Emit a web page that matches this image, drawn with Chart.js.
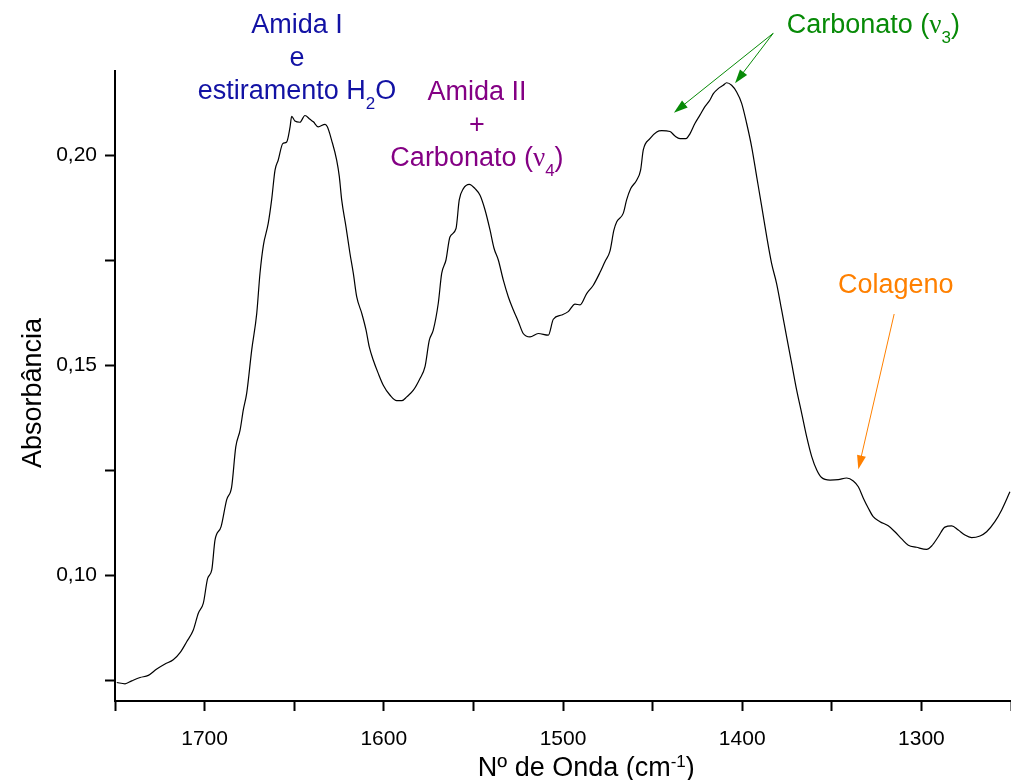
<!DOCTYPE html>
<html>
<head>
<meta charset="utf-8">
<script src="https://cdn.jsdelivr.net/npm/chart.js@4.4.1/dist/chart.umd.min.js"></script>
<style>
  html, body { margin: 0; padding: 0; background: #fff; }
  #wrap { width: 1011px; height: 780px; position: relative; }
</style>
</head>
<body>
<div id="wrap"><canvas id="spectrum" width="1011" height="780"></canvas></div>
<script>
// FTIR absorbance spectrum, wavenumber in cm^-1 (axis runs high -> low)
const wavenumber = [
  1749.0, 1744.4, 1740.7, 1736.0, 1731.4, 1726.7, 1722.1, 1717.5, 1713.7, 1710.0,
  1706.3, 1703.5, 1700.7, 1698.3, 1696.0, 1694.2, 1690.8, 1687.7, 1684.9, 1682.6,
  1680.2, 1678.4, 1676.5, 1673.7, 1670.9, 1669.1, 1667.2, 1664.5, 1662.6, 1660.7,
  1658.9, 1656.4, 1654.2, 1652.3, 1651.4, 1649.6, 1646.8, 1644.0, 1641.2, 1639.3,
  1636.6, 1632.8, 1631.5, 1629.1, 1626.3, 1624.8, 1623.5, 1621.1, 1618.9, 1617.0,
  1615.1, 1612.3, 1609.9, 1608.1, 1605.9, 1603.1, 1600.3, 1596.5, 1592.8, 1590.0,
  1587.2, 1583.5, 1579.8, 1577.0, 1574.6, 1572.4, 1569.6, 1567.7, 1565.3, 1563.1,
  1559.7, 1557.9, 1555.6, 1552.3, 1549.1, 1546.3, 1543.5, 1540.7, 1538.5, 1536.1,
  1533.3, 1530.5, 1527.7, 1524.9, 1522.2, 1518.4, 1513.8, 1508.2, 1505.4, 1500.7,
  1497.1, 1493.3, 1490.5, 1486.8, 1483.1, 1479.4, 1476.6, 1473.8, 1471.6, 1470.0,
  1466.4, 1464.5, 1462.2, 1458.9, 1456.7, 1455.2, 1451.5, 1447.7, 1444.9, 1440.3,
  1437.5, 1434.7, 1431.4, 1429.1, 1426.4, 1423.6, 1420.8, 1418.0, 1416.1, 1413.4,
  1410.6, 1408.7, 1405.9, 1403.1, 1400.3, 1397.5, 1394.7, 1391.9, 1389.1, 1386.3,
  1383.6, 1380.8, 1378.0, 1375.2, 1372.4, 1369.6, 1366.8, 1364.0, 1361.2, 1358.4,
  1355.7, 1351.0, 1346.4, 1341.7, 1338.0, 1335.2, 1332.4, 1329.6, 1326.9, 1323.1,
  1318.5, 1314.8, 1311.0, 1307.3, 1302.7, 1297.1, 1294.3, 1290.6, 1286.9, 1283.1,
  1279.4, 1275.7, 1272.0, 1267.3, 1263.6, 1259.0, 1255.2, 1250.6
];

const absorbance = [
  0.0744, 0.0741, 0.0748, 0.0756, 0.0761, 0.0776, 0.0788, 0.0798, 0.0815, 0.0841,
  0.0869, 0.0909, 0.0933, 0.0992, 0.1012, 0.1083, 0.1115, 0.1179, 0.1210, 0.1305,
  0.1345, 0.1393, 0.1433, 0.1536, 0.1623, 0.1718, 0.1785, 0.1837, 0.1893, 0.1964,
  0.1988, 0.2027, 0.2031, 0.2067, 0.2092, 0.2081, 0.2078, 0.2094, 0.2085, 0.2079,
  0.2067, 0.2073, 0.2067, 0.2035, 0.1988, 0.1948, 0.1893, 0.1829, 0.1766, 0.1718,
  0.1662, 0.1623, 0.1583, 0.1543, 0.1512, 0.1480, 0.1452, 0.1428, 0.1415, 0.1415,
  0.1424, 0.1440, 0.1468, 0.1496, 0.1559, 0.1583, 0.1647, 0.1718, 0.1750, 0.1805,
  0.1825, 0.1893, 0.1920, 0.1930, 0.1920, 0.1904, 0.1869, 0.1821, 0.1778, 0.1750,
  0.1702, 0.1662, 0.1631, 0.1603, 0.1575, 0.1567, 0.1575, 0.1571, 0.1609, 0.1619,
  0.1627, 0.1645, 0.1643, 0.1670, 0.1690, 0.1720, 0.1746, 0.1771, 0.1821, 0.1841,
  0.1861, 0.1893, 0.1920, 0.1940, 0.1964, 0.2012, 0.2039, 0.2055, 0.2058, 0.2056,
  0.2045, 0.2039, 0.2039, 0.2051, 0.2075, 0.2095, 0.2115, 0.2131, 0.2146, 0.2158,
  0.2166, 0.2172, 0.2166, 0.2150, 0.2123, 0.2075, 0.2019, 0.1948, 0.1877, 0.1805,
  0.1742, 0.1694, 0.1631, 0.1567, 0.1504, 0.1440, 0.1385, 0.1329, 0.1282, 0.1250,
  0.1232, 0.1226, 0.1227, 0.1231, 0.1224, 0.1210, 0.1183, 0.1159, 0.1139, 0.1127,
  0.1117, 0.1103, 0.1086, 0.1071, 0.1066, 0.1061, 0.1069, 0.1091, 0.1114, 0.1117,
  0.1107, 0.1095, 0.1089, 0.1093, 0.1103, 0.1127, 0.1155, 0.1198
];

// Axis ticks (every tick gets a mark, only some get a label)
const xTicks      = [1750, 1700, 1650, 1600, 1550, 1500, 1450, 1400, 1350, 1300, 1250];
const xTickLabels = ['', '1700', '', '1600', '', '1500', '', '1400', '', '1300', ''];
const yTicks      = [0.075, 0.10, 0.125, 0.15, 0.175, 0.20];
const yTickLabels = ['', '0,10', '', '0,15', '', '0,20'];

const SANS = '"Liberation Sans", Arial, sans-serif';
const SERIF = '"Liberation Serif", "Times New Roman", serif';

// Band assignments: text runs anchored at (wavenumber, absorbance)
const callouts = [
  { color: '#1212A4', align: 'center', at: [1648.4, 0.22905], lines: [
      [['Amida I', '']],
      [['e', '']],
      [['estiramento H', ''], ['2', 'sub'], ['O', '']]
  ]},
  { color: '#840084', align: 'center', at: [1548.0, 0.2131], lines: [
      [['Amida II', '']],
      [['+', '']],
      [['Carbonato (', ''], ['\u03BD', 'greek'], ['4', 'sub'], [')', '']]
  ]},
  { color: '#078A07', align: 'left', at: [1375.2, 0.22905], lines: [
      [['Carbonato (', ''], ['\u03BD', 'greek'], ['3', 'sub'], [')', '']]
  ]},
  { color: '#FF8000', align: 'left', at: [1346.6, 0.16714], lines: [
      [['Colageno', '']]
  ]}
];

const arrows = [
  { color: '#078A07', from: [1382.7, 0.22898], to: [1438.1, 0.21007] },
  { color: '#078A07', from: [1382.7, 0.22898], to: [1404.0, 0.21707] },
  { color: '#FF8000', from: [1315.2, 0.16214], to: [1335.2, 0.12517] }
];

const TEXT_SIZE = 27;
const LINE_GAP = 33;

function runFont(kind) {
  if (kind === 'sub' || kind === 'sup') return `${Math.round(TEXT_SIZE * 0.62)}px ${SANS}`;
  if (kind === 'greek') return `${TEXT_SIZE}px ${SERIF}`;
  return `${TEXT_SIZE}px ${SANS}`;
}

function drawRuns(ctx, runs, x, y, align, color) {
  let total = 0;
  runs.forEach(r => { ctx.font = runFont(r[1]); total += ctx.measureText(r[0]).width; });
  let cx = align === 'center' ? x - total / 2 : x;
  ctx.fillStyle = color;
  ctx.textAlign = 'left';
  ctx.textBaseline = 'alphabetic';
  runs.forEach(r => {
    ctx.font = runFont(r[1]);
    const dy = r[1] === 'sub' ? TEXT_SIZE * 0.37 : r[1] === 'sup' ? -TEXT_SIZE * 0.33 : 0;
    ctx.fillText(r[0], cx, y + dy);
    cx += ctx.measureText(r[0]).width;
  });
}

function drawArrow(ctx, x0, y0, x1, y1, color) {
  const ang = Math.atan2(y1 - y0, x1 - x0);
  const len = 14, half = 4.5;
  ctx.strokeStyle = color;
  ctx.fillStyle = color;
  ctx.lineWidth = 1;
  ctx.beginPath();
  ctx.moveTo(x0, y0);
  ctx.lineTo(x1 - Math.cos(ang) * len * 0.8, y1 - Math.sin(ang) * len * 0.8);
  ctx.stroke();
  ctx.beginPath();
  ctx.moveTo(x1, y1);
  ctx.lineTo(x1 - Math.cos(ang) * len - Math.sin(ang) * half, y1 - Math.sin(ang) * len + Math.cos(ang) * half);
  ctx.lineTo(x1 - Math.cos(ang) * len + Math.sin(ang) * half, y1 - Math.sin(ang) * len - Math.cos(ang) * half);
  ctx.closePath();
  ctx.fill();
}

const annotationLayer = {
  id: 'annotationLayer',
  afterDraw(chart) {
    const { ctx, chartArea } = chart;
    const xs = chart.scales.x, ys = chart.scales.y;
    ctx.save();

    // band labels
    callouts.forEach(c => {
      const px = xs.getPixelForValue(c.at[0]);
      const py = ys.getPixelForValue(c.at[1]);
      c.lines.forEach((runs, i) => drawRuns(ctx, runs, px, py + i * LINE_GAP, c.align, c.color));
    });

    // pointer arrows
    arrows.forEach(a => {
      drawArrow(ctx,
        xs.getPixelForValue(a.from[0]), ys.getPixelForValue(a.from[1]),
        xs.getPixelForValue(a.to[0]), ys.getPixelForValue(a.to[1]), a.color);
    });

    // x-axis title with superscript
    drawRuns(ctx, [['N\u00BA de Onda (cm', ''], ['-1', 'sup'], [')', '']],
      xs.getPixelForValue(1487), chart.height - 4, 'center', '#000');

    // y-axis title
    ctx.translate(41, (chartArea.top + chartArea.bottom) / 2 + 7);
    ctx.rotate(-Math.PI / 2);
    ctx.font = `${TEXT_SIZE}px ${SANS}`;
    ctx.fillStyle = '#000';
    ctx.textAlign = 'center';
    ctx.textBaseline = 'alphabetic';
    ctx.fillText('Absorb\u00E2ncia', 0, 0);
    ctx.restore();
  }
};

const points = wavenumber.map((w, i) => ({ x: w, y: absorbance[i] }));

new Chart(document.getElementById('spectrum'), {
  type: 'line',
  data: {
    datasets: [{
      data: points,
      borderColor: '#000',
      borderWidth: 1.2,
      pointRadius: 0,
      cubicInterpolationMode: 'monotone',
      fill: false
    }]
  },
  options: {
    responsive: false,
    animation: false,
    devicePixelRatio: 1,
    layout: { padding: { top: 71, right: 0, bottom: 0, left: 0 } },
    plugins: { legend: { display: false }, tooltip: { enabled: false } },
    scales: {
      x: {
        type: 'linear',
        reverse: true,
        min: 1250,
        max: 1750,
        afterFit(scale) {
          scale.height = 79;
          scale.paddingLeft = 0;
          scale.paddingRight = 0;
        },
        afterBuildTicks(scale) { scale.ticks = xTicks.map(v => ({ value: v })); },
        ticks: {
          callback: (v, i) => xTickLabels[i],
          autoSkip: false,
          maxRotation: 0,
          padding: 16,
          color: '#000',
          font: { family: SANS, size: 21 }
        },
        grid: { drawOnChartArea: false, drawTicks: true, tickLength: 10, tickColor: '#000', tickWidth: 2 },
        border: { display: true, color: '#000', width: 2 }
      },
      y: {
        type: 'linear',
        min: 0.07,
        max: 0.22,
        afterFit(scale) {
          scale.width = 115;
          scale.paddingTop = 0;
          scale.paddingBottom = 0;
        },
        afterBuildTicks(scale) { scale.ticks = yTicks.map(v => ({ value: v })); },
        ticks: {
          callback: (v, i) => yTickLabels[i],
          autoSkip: false,
          padding: 8,
          color: '#000',
          font: { family: SANS, size: 21 }
        },
        grid: { drawOnChartArea: false, drawTicks: true, tickLength: 10, tickColor: '#000', tickWidth: 2 },
        border: { display: true, color: '#000', width: 2 }
      }
    }
  },
  plugins: [annotationLayer]
});
</script>
</body>
</html>
